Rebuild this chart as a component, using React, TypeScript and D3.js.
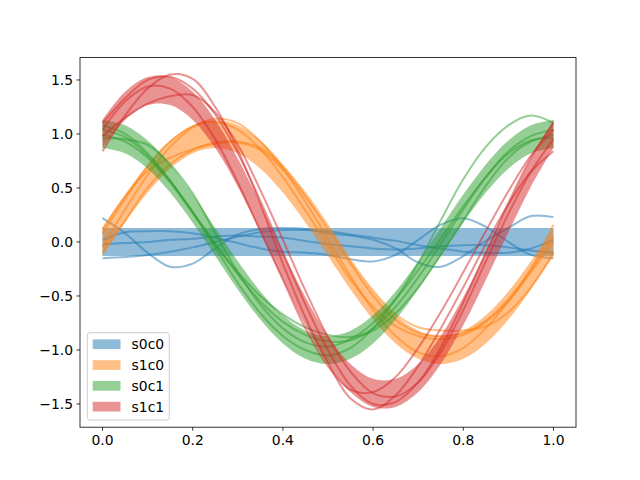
import React from "react";
import * as d3 from "d3";

const xs = [0, 0.05, 0.1, 0.15, 0.2, 0.25, 0.3, 0.35, 0.4, 0.45, 0.5, 0.55, 0.6, 0.65, 0.7, 0.75, 0.8, 0.85, 0.9, 0.95, 1.0];

const seriesNames = ["s0c0", "s1c0", "s0c1", "s1c1"];
const colors = ["#1f77b4", "#ff7f0e", "#2ca02c", "#d62728"];
const bandHalfWidth = 0.13;

const centerS0C0 = [0, 0, 0, 0, 0, 0, 0, 0, 0, 0, 0, 0, 0, 0, 0, 0, 0, 0, 0, 0, 0];
const centerS1C0 = [0, 0.309, 0.588, 0.809, 0.951, 1, 0.951, 0.809, 0.588, 0.309, 0, -0.309, -0.588, -0.809, -0.951, -1, -0.951, -0.809, -0.588, -0.309, 0];
const centerS0C1 = [1, 0.951, 0.809, 0.588, 0.309, 0, -0.309, -0.588, -0.809, -0.951, -1, -0.951, -0.809, -0.588, -0.309, 0, 0.309, 0.588, 0.809, 0.951, 1];
const centerS1C1 = [1, 1.26, 1.397, 1.397, 1.26, 1, 0.642, 0.221, -0.221, -0.642, -1, -1.26, -1.397, -1.397, -1.26, -1, -0.642, -0.221, 0.221, 0.642, 1];

// sample lines
const linesS0C0 = [
  [0.22, 0.08, -0.1, -0.23, -0.2, -0.06, 0.07, 0.12, 0.13, 0.12, 0.08, 0.06, 0.02, -0.06, -0.19, -0.23, -0.13, 0.01, 0.13, 0.24, 0.23],
  [-0.15, -0.14, -0.12, -0.09, -0.05, 0.0, 0.05, 0.09, 0.11, 0.11, 0.1, 0.07, 0.04, 0.01, -0.03, -0.06, -0.09, -0.1, -0.1, -0.06, 0.02],
  [0.02, 0.09, 0.1, 0.1, 0.08, 0.04, -0.01, -0.06, -0.09, -0.1, -0.12, -0.16, -0.18, -0.12, 0.02, 0.16, 0.22, 0.14, 0.0, -0.12, -0.15],
  [-0.02, -0.01, 0.0, 0.02, 0.03, 0.05, 0.06, 0.05, 0.04, 0.01, -0.02, -0.04, -0.06, -0.07, -0.06, -0.04, -0.03, -0.03, -0.05, -0.08, -0.1],
];
const linesS1C0 = [
  [-0.05, 0.3, 0.62, 0.88, 1.06, 1.14, 1.1, 0.93, 0.68, 0.37, 0.03, -0.32, -0.63, -0.87, -1.02, -1.06, -0.98, -0.8, -0.55, -0.26, 0.05],
  [0.08, 0.4, 0.7, 0.93, 1.07, 1.11, 1.04, 0.86, 0.6, 0.29, -0.03, -0.35, -0.6, -0.78, -0.87, -0.9, -0.86, -0.74, -0.55, -0.28, 0.0],
  [-0.1, 0.2, 0.5, 0.72, 0.85, 0.92, 0.93, 0.87, 0.7, 0.45, 0.15, -0.17, -0.45, -0.67, -0.79, -0.82, -0.82, -0.78, -0.65, -0.42, -0.1],
  [0.12, 0.42, 0.66, 0.78, 0.86, 0.91, 0.92, 0.85, 0.67, 0.42, 0.12, -0.2, -0.5, -0.72, -0.84, -0.87, -0.84, -0.73, -0.53, -0.25, 0.16],
];
const linesS0C1 = [
  [1.08, 1.0, 0.82, 0.57, 0.27, -0.05, -0.38, -0.66, -0.87, -1.0, -1.05, -0.98, -0.8, -0.53, -0.2, 0.2, 0.58, 0.88, 1.08, 1.17, 1.1],
  [0.96, 0.95, 0.9, 0.72, 0.45, 0.08, -0.28, -0.58, -0.8, -0.93, -0.97, -0.9, -0.75, -0.53, -0.26, 0.03, 0.33, 0.6, 0.82, 0.94, 0.96],
  [1.04, 0.97, 0.8, 0.56, 0.28, -0.02, -0.3, -0.55, -0.74, -0.86, -0.92, -0.91, -0.8, -0.6, -0.33, -0.02, 0.3, 0.6, 0.84, 0.98, 1.04],
  [0.99, 0.93, 0.78, 0.55, 0.27, -0.02, -0.28, -0.5, -0.67, -0.79, -0.86, -0.88, -0.82, -0.66, -0.42, -0.12, 0.2, 0.52, 0.78, 0.93, 0.99],
];
const linesS1C1 = [
  [0.84, 1.17, 1.42, 1.55, 1.51, 1.25, 0.85, 0.35, -0.2, -0.7, -1.12, -1.45, -1.55, -1.42, -1.15, -0.8, -0.42, -0.02, 0.35, 0.65, 0.84],
  [1.1, 1.33, 1.5, 1.53, 1.42, 1.18, 0.82, 0.38, -0.1, -0.58, -1.0, -1.33, -1.5, -1.48, -1.3, -0.98, -0.56, -0.1, 0.36, 0.78, 1.1],
  [1.04, 1.3, 1.44, 1.42, 1.25, 0.95, 0.55, 0.1, -0.35, -0.8, -1.15, -1.37, -1.39, -1.25, -0.98, -0.65, -0.28, 0.1, 0.47, 0.8, 1.04],
  [0.98, 1.15, 1.28, 1.35, 1.36, 1.2, 0.9, 0.48, 0.02, -0.45, -0.88, -1.2, -1.4, -1.43, -1.3, -1.02, -0.63, -0.18, 0.26, 0.65, 0.95],
];

const centers = [centerS0C0, centerS1C0, centerS0C1, centerS1C1];
const lineSets = [linesS0C0, linesS1C0, linesS0C1, linesS1C1];

const xTicks = [0.0, 0.2, 0.4, 0.6, 0.8, 1.0];
const yTicks = [-1.5, -1.0, -0.5, 0.0, 0.5, 1.0, 1.5];

const W = 640, H = 480;
const L = 80, R = 576, T = 57.6, B = 427.2;
const FONT = "'DejaVu Sans', sans-serif";
const FS = 13.9;

export default function App() {
  const x = d3.scaleLinear().domain([-0.05, 1.05]).range([L, R]);
  const y = d3.scaleLinear().domain([-1.715, 1.707]).range([B, T]);
  const curve = d3.curveCatmullRom.alpha(0.5);
  const area = d3.area<number>()
    .x((_, i) => x(xs[i]))
    .y0((d) => y(d - bandHalfWidth))
    .y1((d) => y(d + bandHalfWidth))
    .curve(curve);
  const line = d3.line<number>()
    .x((_, i) => x(xs[i]))
    .y((d) => y(d))
    .curve(curve);
  const fmt = (v: number) => (v < 0 ? "\u2212" : "") + Math.abs(v).toFixed(1);

  return (
    <div style={{ position: "fixed", left: 0, top: 0 }}>
      <svg width={W} height={H} xmlns="http://www.w3.org/2000/svg" style={{ display: "block", background: "#fff" }}>
        <defs>
          <clipPath id="plot">
            <rect x={L} y={T} width={R - L} height={B - T} />
          </clipPath>
        </defs>
        <rect x={0} y={0} width={W} height={H} fill="#fff" />
        <g clipPath="url(#plot)">
          {centers.map((c, si) => (
            <g key={si}>
              <path d={area(c) || ""} fill={colors[si]} fillOpacity={0.5} stroke="none" />
              {lineSets[si].map((ln, li) => (
                <path key={li} d={line(ln) || ""} fill="none" stroke={colors[si]} strokeOpacity={0.5} strokeWidth={2} />
              ))}
            </g>
          ))}
        </g>
        <rect x={L} y={T} width={R - L} height={B - T} fill="none" stroke="#000" strokeWidth={0.8} />
        {xTicks.map((t) => (
          <g key={"x" + t}>
            <line x1={x(t)} x2={x(t)} y1={B} y2={B + 3.5} stroke="#000" strokeWidth={0.8} />
            <text x={x(t)} y={B + 7} dy="0.76em" textAnchor="middle" fontFamily={FONT} fontSize={FS} fill="#000">{t.toFixed(1)}</text>
          </g>
        ))}
        {yTicks.map((t) => (
          <g key={"y" + t}>
            <line x1={L - 3.5} x2={L} y1={y(t)} y2={y(t)} stroke="#000" strokeWidth={0.8} />
            <text x={L - 7} y={y(t)} dy="0.35em" textAnchor="end" fontFamily={FONT} fontSize={FS} fill="#000">{fmt(t)}</text>
          </g>
        ))}
        <g>
          <rect x={87.3} y={332.7} width={82} height={87.3} rx={2.5} fill="#fff" fillOpacity={0.8} stroke="#cccccc" strokeWidth={1} />
          {seriesNames.map((n, i) => {
            const cy = 344.3 + i * 20.8;
            return (
              <g key={n}>
                <rect x={92.7} y={cy - 4.9} width={27.8} height={9.7} fill={colors[i]} fillOpacity={0.5} />
                <text x={131.6} y={cy} dy="0.35em" fontFamily={FONT} fontSize={FS} fill="#000">{n}</text>
              </g>
            );
          })}
        </g>
      </svg>
    </div>
  );
}
